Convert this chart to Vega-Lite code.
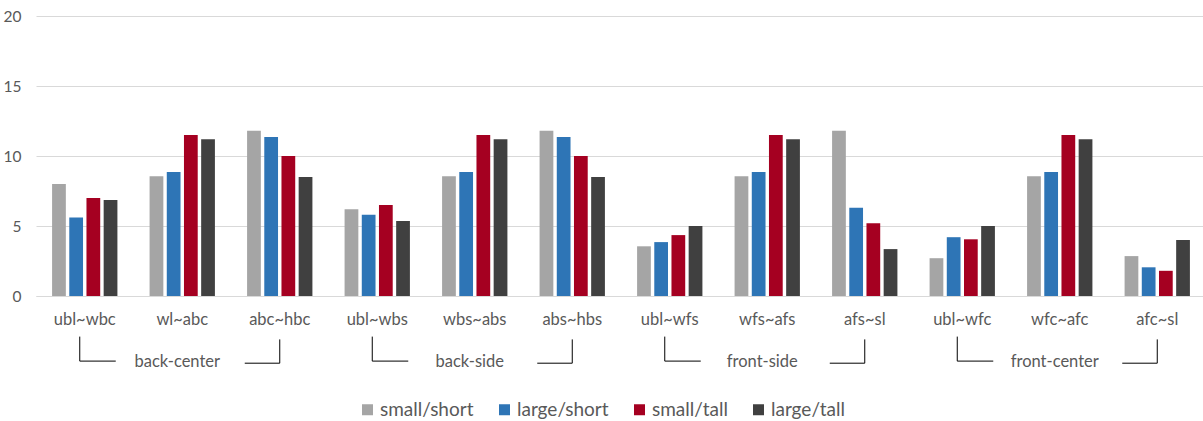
{
  "$schema": "https://vega.github.io/schema/vega-lite/v6.json",
  "autosize": {"type": "none"},
  "padding": {"left": 36, "top": 16, "right": 0, "bottom": 125},
  "width": 1170,
  "height": 280,
  "background": "white",
  "config": {
    "view": {"stroke": null},
    "font": "Lato",
    "axis": {"labelFont": "Lato", "labelColor": "#595959"},
    "legend": {"labelFont": "Lato"}
  },
  "datasets": {
    "bars": [
      {"category": "ubl~wbc", "group": "back-center", "series": "small/short", "value": 8.0},
      {"category": "ubl~wbc", "group": "back-center", "series": "large/short", "value": 5.6},
      {"category": "ubl~wbc", "group": "back-center", "series": "small/tall", "value": 7.0},
      {"category": "ubl~wbc", "group": "back-center", "series": "large/tall", "value": 6.85},
      {"category": "wl~abc", "group": "back-center", "series": "small/short", "value": 8.55},
      {"category": "wl~abc", "group": "back-center", "series": "large/short", "value": 8.85},
      {"category": "wl~abc", "group": "back-center", "series": "small/tall", "value": 11.5},
      {"category": "wl~abc", "group": "back-center", "series": "large/tall", "value": 11.2},
      {"category": "abc~hbc", "group": "back-center", "series": "small/short", "value": 11.8},
      {"category": "abc~hbc", "group": "back-center", "series": "large/short", "value": 11.35},
      {"category": "abc~hbc", "group": "back-center", "series": "small/tall", "value": 10.0},
      {"category": "abc~hbc", "group": "back-center", "series": "large/tall", "value": 8.5},
      {"category": "ubl~wbs", "group": "back-side", "series": "small/short", "value": 6.2},
      {"category": "ubl~wbs", "group": "back-side", "series": "large/short", "value": 5.8},
      {"category": "ubl~wbs", "group": "back-side", "series": "small/tall", "value": 6.5},
      {"category": "ubl~wbs", "group": "back-side", "series": "large/tall", "value": 5.35},
      {"category": "wbs~abs", "group": "back-side", "series": "small/short", "value": 8.55},
      {"category": "wbs~abs", "group": "back-side", "series": "large/short", "value": 8.85},
      {"category": "wbs~abs", "group": "back-side", "series": "small/tall", "value": 11.5},
      {"category": "wbs~abs", "group": "back-side", "series": "large/tall", "value": 11.2},
      {"category": "abs~hbs", "group": "back-side", "series": "small/short", "value": 11.8},
      {"category": "abs~hbs", "group": "back-side", "series": "large/short", "value": 11.35},
      {"category": "abs~hbs", "group": "back-side", "series": "small/tall", "value": 10.0},
      {"category": "abs~hbs", "group": "back-side", "series": "large/tall", "value": 8.5},
      {"category": "ubl~wfs", "group": "front-side", "series": "small/short", "value": 3.55},
      {"category": "ubl~wfs", "group": "front-side", "series": "large/short", "value": 3.85},
      {"category": "ubl~wfs", "group": "front-side", "series": "small/tall", "value": 4.35},
      {"category": "ubl~wfs", "group": "front-side", "series": "large/tall", "value": 5.0},
      {"category": "wfs~afs", "group": "front-side", "series": "small/short", "value": 8.55},
      {"category": "wfs~afs", "group": "front-side", "series": "large/short", "value": 8.85},
      {"category": "wfs~afs", "group": "front-side", "series": "small/tall", "value": 11.5},
      {"category": "wfs~afs", "group": "front-side", "series": "large/tall", "value": 11.2},
      {"category": "afs~sl", "group": "front-side", "series": "small/short", "value": 11.8},
      {"category": "afs~sl", "group": "front-side", "series": "large/short", "value": 6.3},
      {"category": "afs~sl", "group": "front-side", "series": "small/tall", "value": 5.2},
      {"category": "afs~sl", "group": "front-side", "series": "large/tall", "value": 3.35},
      {"category": "ubl~wfc", "group": "front-center", "series": "small/short", "value": 2.7},
      {"category": "ubl~wfc", "group": "front-center", "series": "large/short", "value": 4.2},
      {"category": "ubl~wfc", "group": "front-center", "series": "small/tall", "value": 4.05},
      {"category": "ubl~wfc", "group": "front-center", "series": "large/tall", "value": 5.0},
      {"category": "wfc~afc", "group": "front-center", "series": "small/short", "value": 8.55},
      {"category": "wfc~afc", "group": "front-center", "series": "large/short", "value": 8.85},
      {"category": "wfc~afc", "group": "front-center", "series": "small/tall", "value": 11.5},
      {"category": "wfc~afc", "group": "front-center", "series": "large/tall", "value": 11.2},
      {"category": "afc~sl", "group": "front-center", "series": "small/short", "value": 2.85},
      {"category": "afc~sl", "group": "front-center", "series": "large/short", "value": 2.05},
      {"category": "afc~sl", "group": "front-center", "series": "small/tall", "value": 1.8},
      {"category": "afc~sl", "group": "front-center", "series": "large/tall", "value": 4.0}
    ],
    "groups": [
      {"group": "back-center", "first": "ubl~wbc", "mid": "wl~abc", "last": "abc~hbc"},
      {"group": "back-side", "first": "ubl~wbs", "mid": "wbs~abs", "last": "abs~hbs"},
      {"group": "front-side", "first": "ubl~wfs", "mid": "wfs~afs", "last": "afs~sl"},
      {"group": "front-center", "first": "ubl~wfc", "mid": "wfc~afc", "last": "afc~sl"}
    ]
  },
  "layer": [
    {
      "data": {"name": "bars"},
      "mark": {"type": "bar"},
      "encoding": {
        "x": {
          "field": "category", "type": "nominal", "sort": null,
          "scale": {
            "domain": ["ubl~wbc", "wl~abc", "abc~hbc", "ubl~wbs", "wbs~abs", "abs~hbs", "ubl~wfs", "wfs~afs", "afs~sl", "ubl~wfc", "wfc~afc", "afc~sl"],
            "paddingInner": 0.33, "paddingOuter": 0.165
          },
          "axis": {
            "title": null, "labelAngle": 0, "ticks": false,
            "domainColor": "#d9d9d9", "domainWidth": 1,
            "labelFontSize": 16.5, "labelPadding": 15, "labelColor": "#595959"
          }
        },
        "xOffset": {
          "field": "series", "type": "nominal",
          "scale": {"domain": ["small/short", "large/short", "small/tall", "large/tall"], "paddingInner": 0.2, "paddingOuter": 0}
        },
        "y": {
          "field": "value", "type": "quantitative",
          "scale": {"domain": [0, 20], "nice": false, "zero": true},
          "axis": {
            "title": null, "values": [0, 5, 10, 15, 20], "domain": false, "ticks": false,
            "gridColor": "#d9d9d9", "gridWidth": 1,
            "labelFontSize": 15.5, "labelPadding": 15, "labelColor": "#595959"
          }
        },
        "color": {
          "field": "series", "type": "nominal",
          "scale": {
            "domain": ["small/short", "large/short", "small/tall", "large/tall"],
            "range": ["#A5A5A5", "#2E75B6", "#A50021", "#404040"]
          },
          "legend": {
            "title": null, "orient": "none", "direction": "horizontal",
            "legendX": 322, "legendY": 384,
            "symbolType": "square", "symbolSize": 121, "symbolStrokeWidth": 0,
            "labelFontSize": 19, "labelColor": "#595959", "labelOffset": 3,
            "columnPadding": 21
          }
        }
      }
    },
    {
      "data": {"name": "groups"},
      "mark": {"type": "rule", "color": "black", "strokeWidth": 1, "xOffset": -5},
      "encoding": {
        "x": {"field": "first", "type": "nominal", "title": null},
        "y": {"datum": -2.9, "type": "quantitative"},
        "y2": {"datum": -4.65}
      }
    },
    {
      "data": {"name": "groups"},
      "mark": {"type": "rule", "color": "black", "strokeWidth": 1, "xOffset": -5, "x2Offset": 31},
      "encoding": {
        "x": {"field": "first", "type": "nominal", "title": null},
        "x2": {"field": "first"},
        "y": {"datum": -4.65, "type": "quantitative"}
      }
    },
    {
      "data": {"name": "groups"},
      "mark": {"type": "rule", "color": "black", "strokeWidth": 1},
      "encoding": {
        "x": {"field": "last", "type": "nominal", "title": null},
        "y": {"datum": -3.1, "type": "quantitative"},
        "y2": {"datum": -4.8}
      }
    },
    {
      "data": {"name": "groups"},
      "mark": {"type": "rule", "color": "black", "strokeWidth": 1, "xOffset": -35},
      "encoding": {
        "x": {"field": "last", "type": "nominal", "title": null},
        "x2": {"field": "last"},
        "y": {"datum": -4.8, "type": "quantitative"}
      }
    },
    {
      "data": {"name": "groups"},
      "mark": {"type": "text", "fontSize": 16.5, "color": "#595959", "baseline": "middle", "dx": -5},
      "encoding": {
        "x": {"field": "mid", "type": "nominal", "title": null},
        "y": {"datum": -4.7, "type": "quantitative"},
        "text": {"field": "group"}
      }
    }
  ]
}
